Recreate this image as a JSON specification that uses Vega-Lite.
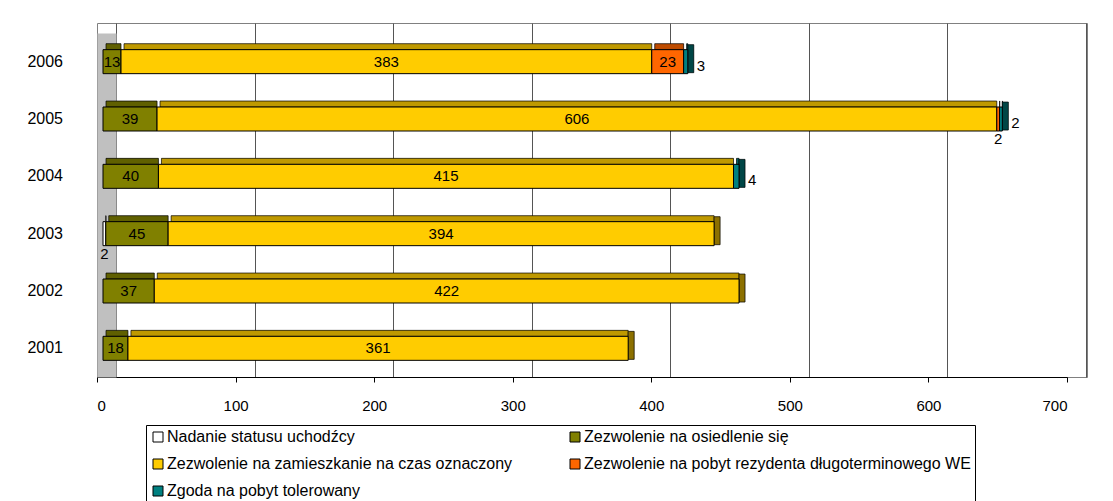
{
  "$schema": "https://vega.github.io/schema/vega-lite/v6.json",
  "width": 990,
  "height": 354,
  "autosize": {"type": "none"},
  "padding": {"left": 97, "top": 23, "right": 26, "bottom": 124},
  "background": "white",
  "config": {
    "font": "Liberation Sans",
    "view": {"stroke": "#808080", "strokeWidth": 1},
    "text": {"font": "Liberation Sans"}
  },
  "data": {
    "values": [
      {"year": "2006", "kategoria": "Zezwolenie na osiedlenie się", "value": 13},
      {"year": "2006", "kategoria": "Zezwolenie na zamieszkanie na czas oznaczony", "value": 383},
      {"year": "2006", "kategoria": "Zezwolenie na pobyt rezydenta długoterminowego WE", "value": 23},
      {"year": "2006", "kategoria": "Zgoda na pobyt tolerowany", "value": 3},
      {"year": "2005", "kategoria": "Zezwolenie na osiedlenie się", "value": 39},
      {"year": "2005", "kategoria": "Zezwolenie na zamieszkanie na czas oznaczony", "value": 606},
      {"year": "2005", "kategoria": "Zezwolenie na pobyt rezydenta długoterminowego WE", "value": 2},
      {"year": "2005", "kategoria": "Zgoda na pobyt tolerowany", "value": 2},
      {"year": "2004", "kategoria": "Zezwolenie na osiedlenie się", "value": 40},
      {"year": "2004", "kategoria": "Zezwolenie na zamieszkanie na czas oznaczony", "value": 415},
      {"year": "2004", "kategoria": "Zgoda na pobyt tolerowany", "value": 4},
      {"year": "2003", "kategoria": "Nadanie statusu uchodźcy", "value": 2},
      {"year": "2003", "kategoria": "Zezwolenie na osiedlenie się", "value": 45},
      {"year": "2003", "kategoria": "Zezwolenie na zamieszkanie na czas oznaczony", "value": 394},
      {"year": "2002", "kategoria": "Zezwolenie na osiedlenie się", "value": 37},
      {"year": "2002", "kategoria": "Zezwolenie na zamieszkanie na czas oznaczony", "value": 422},
      {"year": "2001", "kategoria": "Zezwolenie na osiedlenie się", "value": 18},
      {"year": "2001", "kategoria": "Zezwolenie na zamieszkanie na czas oznaczony", "value": 361}
    ]
  },
  "transform": [
    {"calculate": "indexof(['Nadanie statusu uchodźcy','Zezwolenie na osiedlenie się','Zezwolenie na zamieszkanie na czas oznaczony','Zezwolenie na pobyt rezydenta długoterminowego WE','Zgoda na pobyt tolerowany'], datum.kategoria)", "as": "ord"},
    {"stack": "value", "groupby": ["year"], "sort": [{"field": "ord", "order": "ascending"}], "as": ["x0", "x1"]},
    {"calculate": "(datum.x0 + datum.x1) / 2", "as": "mid"},
    {"joinaggregate": [{"op": "max", "field": "x1", "as": "total"}], "groupby": ["year"]}
  ],
  "resolve": {"scale": {"x": "independent"}, "axis": {"x": "independent"}},
  "layer": [
    {
      "mark": {"type": "point", "opacity": 0},
      "encoding": {
        "x": {
          "field": "x1", "type": "quantitative",
          "scale": {"domain": [0, 700], "range": [19, 989], "nice": false, "zero": false},
          "axis": {"orient": "bottom", "values": [0, 100, 200, 300, 400, 500, 600, 700], "grid": true, "gridColor": "#555555", "gridWidth": 1, "labels": false, "ticks": false, "domain": false, "title": null}
        }
      }
    },
    {
      "mark": {"type": "point", "opacity": 0},
      "encoding": {
        "x": {
          "field": "x1", "type": "quantitative",
          "scale": {"domain": [0, 700], "range": [0, 970], "nice": false, "zero": false},
          "axis": {"orient": "bottom", "values": [0, 100, 200, 300, 400, 500, 600, 700], "grid": false, "domainColor": "black", "tickColor": "black", "tickSize": 5, "labelFontSize": 15, "labelColor": "black", "labelPadding": 16, "labelFont": "Liberation Sans", "title": null}
        }
      }
    },
    {
      "encoding": {
        "y": {
          "field": "year", "type": "ordinal", "sort": "descending",
          "scale": {"range": [10, 354], "paddingInner": 0, "paddingOuter": 0},
          "axis": {"orient": "left", "offset": -9.5, "domainWidth": 19, "domainColor": "#c0c0c0", "domainCap": "butt", "ticks": false, "tickSize": 0, "labelPadding": 44, "labelFontSize": 16, "labelColor": "black", "labelFont": "Liberation Sans", "title": null, "grid": false}
        },
        "color": {
          "field": "kategoria", "type": "nominal",
          "scale": {"domain": ["Nadanie statusu uchodźcy", "Zezwolenie na osiedlenie się", "Zezwolenie na zamieszkanie na czas oznaczony", "Zezwolenie na pobyt rezydenta długoterminowego WE", "Zgoda na pobyt tolerowany"], "range": ["#FFFFFF", "#808000", "#FFCC00", "#FF6600", "#008080"]},
          "legend": {
            "orient": "none", "legendX": 49, "legendY": 402, "direction": "horizontal", "columns": 2, "columnPadding": 54, "rowPadding": 11,
            "title": null, "symbolType": "square", "symbolSize": 100, "symbolStrokeColor": "black", "symbolStrokeWidth": 1,
            "labelFontSize": 16, "labelColor": "black", "labelFont": "Liberation Sans", "labelLimit": 600, "labelOffset": 1,
            "strokeColor": "black", "padding": 4, "fillColor": "white"
          }
        }
      },
      "layer": [
        {
          "mark": {"type": "bar", "size": 6, "stroke": "black", "strokeWidth": 0.7},
          "encoding": {
            "x": {"field": "x0", "type": "quantitative", "scale": {"domain": [0, 700], "range": [6, 976], "nice": false, "zero": false}, "axis": null},
            "x2": {"field": "x1"},
            "yOffset": {"value": 13.7},
            "xOffset": {"value": 3}
          }
        },
        {
          "mark": {"type": "bar", "size": 6, "opacity": 0.25, "strokeWidth": 0},
          "encoding": {
            "x": {"field": "x0", "type": "quantitative"},
            "x2": {"field": "x1"},
            "yOffset": {"value": 13.7},
            "xOffset": {"value": 3},
            "color": {"value": "black"}
          }
        },
        {
          "transform": [{"filter": "datum.x1 == datum.total"}],
          "mark": {"type": "tick", "thickness": 6, "size": 28, "stroke": "black", "strokeWidth": 0.7, "opacity": 1},
          "encoding": {
            "x": {"field": "x1", "type": "quantitative"},
            "xOffset": {"value": 3},
            "yOffset": {"value": 25.7}
          }
        },
        {
          "transform": [{"filter": "datum.x1 == datum.total"}],
          "mark": {"type": "tick", "thickness": 6, "size": 28, "opacity": 0.45},
          "encoding": {
            "x": {"field": "x1", "type": "quantitative"},
            "xOffset": {"value": 3},
            "yOffset": {"value": 25.7},
            "color": {"value": "black"}
          }
        },
        {
          "mark": {"type": "bar", "size": 24, "stroke": "black", "strokeWidth": 1},
          "encoding": {
            "x": {"field": "x0", "type": "quantitative"},
            "x2": {"field": "x1"}
          }
        },
        {
          "transform": [{"filter": "datum.value >= 10"}],
          "mark": {"type": "text", "fontSize": 15, "baseline": "middle", "align": "center"},
          "encoding": {
            "x": {"field": "mid", "type": "quantitative"},
            "text": {"field": "value", "type": "quantitative"},
            "color": {"value": "black"}
          }
        },
        {
          "transform": [{"filter": "datum.kategoria == 'Zgoda na pobyt tolerowany'"}],
          "mark": {"type": "text", "fontSize": 15, "baseline": "middle", "align": "left", "dx": 9, "dy": 4},
          "encoding": {
            "x": {"field": "x1", "type": "quantitative"},
            "text": {"field": "value", "type": "quantitative"},
            "color": {"value": "black"}
          }
        },
        {
          "transform": [{"filter": "datum.value < 10 && datum.kategoria != 'Zgoda na pobyt tolerowany'"}],
          "mark": {"type": "text", "fontSize": 15, "baseline": "middle", "align": "center", "dy": 20},
          "encoding": {
            "x": {"field": "mid", "type": "quantitative"},
            "text": {"field": "value", "type": "quantitative"},
            "color": {"value": "black"}
          }
        }
      ]
    }
  ]
}
